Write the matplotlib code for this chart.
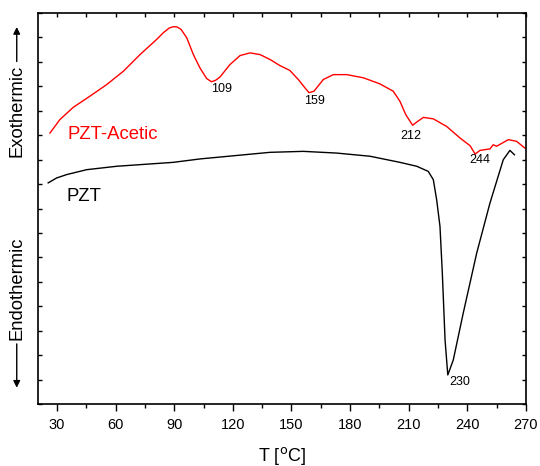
import matplotlib
matplotlib.use("Agg")
import matplotlib.pyplot as plt
from matplotlib.patches import FancyArrowPatch
from matplotlib.ticker import MultipleLocator

plt.rcParams['font.family'] = ['Liberation Sans', 'DejaVu Sans']

# DSC traces (temperature in degC, heat flow in arbitrary units)
acetic_T = [26.4, 31.5, 38.3, 46.9, 55.4, 64.0, 72.5, 81.0, 84.5, 87.5, 89.5,
            91.5, 93.5, 96.4, 99.8, 103.2, 106.6, 109.0, 111.0, 113.4, 118.5,
            123.7, 128.8, 133.9, 139.0, 144.1, 149.2, 153.5, 156.9, 159.0,
            161.5, 163.5, 166.3, 171.4, 178.3, 186.8, 195.3, 202.1, 205.5,
            208.5, 212.0, 214.3, 217.5, 222.6, 229.4, 236.2, 241.4, 244.0,
            246.5, 251.6, 253.2, 255.0, 261.0, 265.2, 270.0]
acetic_y = [11.09, 11.64, 12.14, 12.60, 13.07, 13.62, 14.30, 14.92, 15.20,
            15.39, 15.44, 15.43, 15.33, 14.99, 14.30, 13.75, 13.32, 13.19,
            13.24, 13.38, 13.89, 14.26, 14.37, 14.30, 14.10, 13.85, 13.65,
            13.28, 12.94, 12.74, 12.80, 13.00, 13.28, 13.48, 13.48, 13.35,
            13.10, 12.80, 12.39, 11.84, 11.41, 11.55, 11.73, 11.67, 11.36,
            10.89, 10.57, 10.23, 10.38, 10.44, 10.61, 10.55, 10.82, 10.75,
            10.44]

pzt_T = [25.5, 29.8, 35.0, 45.2, 60.6, 89.5, 103.2, 139.0, 156.0, 173.1,
         190.2, 205.5, 214.1, 220.0, 222.6, 224.3, 226.0, 227.2, 228.6, 230.0,
         232.8, 237.9, 244.8, 251.6, 258.4, 261.8, 264.1]
pzt_y = [9.05, 9.25, 9.39, 9.59, 9.73, 9.89, 10.03, 10.30, 10.34, 10.27,
         10.14, 9.89, 9.73, 9.52, 9.18, 8.36, 7.27, 5.36, 2.62, 1.19, 1.80,
         3.72, 6.18, 8.23, 10.00, 10.38, 10.20]

# peak temperatures and where their labels sit
peak_T = [109, 159, 212, 244]
peak_label_x = [114.4, 162.0, 211.3, 246.6]
peak_label_y = [12.91, 12.39, 10.98, 10.0]
pzt_peak_T = 230
pzt_label_xy = (236.2, 0.91)

fig = plt.figure(figsize=(5.4, 4.66), dpi=100)
ax = fig.add_axes([0.0704, 0.133, 0.9036, 0.839])

ax.plot(acetic_T, acetic_y, color='#ff0000', lw=1.0)
ax.plot(pzt_T, pzt_y, color='black', lw=1.0)

ax.set_xlim(20.3, 270)
ax.set_ylim(0, 16)

for t, lx, ly in zip(peak_T, peak_label_x, peak_label_y):
    ax.text(lx, ly, str(t), fontsize=9, ha='center', va='center')
ax.text(*pzt_label_xy, str(pzt_peak_T), fontsize=9, ha='center',
        va='center')

ax.text(35.5, 11.03, 'PZT-Acetic', color='#ff0000', fontsize=13.3,
        ha='left', va='center')
ax.text(35, 8.5, 'PZT', color='black', fontsize=13.3, ha='left',
        va='center')

ax.set_xticks(range(30, 271, 30))
ax.xaxis.set_minor_locator(MultipleLocator(15))
ax.yaxis.set_major_locator(MultipleLocator(1))
ax.tick_params(axis='x', which='major', direction='out', length=5, width=1,
               labelsize=10.5, pad=5, top=False)
ax.tick_params(axis='x', which='minor', direction='out', length=3, width=1,
               top=False)
ax.tick_params(axis='y', which='major', direction='in', length=3, width=1,
               left=True, right=True, labelleft=False)

# inward ticks along the top edge every 15 degC
sec = ax.secondary_xaxis('top')
sec.xaxis.set_major_locator(MultipleLocator(15))
sec.tick_params(direction='in', length=3, width=1, labeltop=False)
sec.spines['top'].set_visible(False)

for s in ax.spines.values():
    s.set_linewidth(1.2)

fig.text(0.522, 0.022, 'T [$^\\mathrm{o}$C]', fontsize=13, ha='center',
         va='center')

# Exothermic / Endothermic direction labels with arrows
fig.text(0.031, 0.762, 'Exothermic', rotation=90, fontsize=13.3,
         ha='center', va='center')
fig.text(0.031, 0.382, 'Endothermic', rotation=90, fontsize=13.3,
         ha='center', va='center')
fig.add_artist(FancyArrowPatch(
    (0.031, 0.868), (0.031, 0.942), transform=fig.transFigure,
    arrowstyle='-|>', mutation_scale=10, lw=1, color='black',
    shrinkA=0, shrinkB=0))
fig.add_artist(FancyArrowPatch(
    (0.031, 0.262), (0.031, 0.168), transform=fig.transFigure,
    arrowstyle='-|>', mutation_scale=10, lw=1, color='black',
    shrinkA=0, shrinkB=0))

fig.savefig('out.png', dpi=100)
